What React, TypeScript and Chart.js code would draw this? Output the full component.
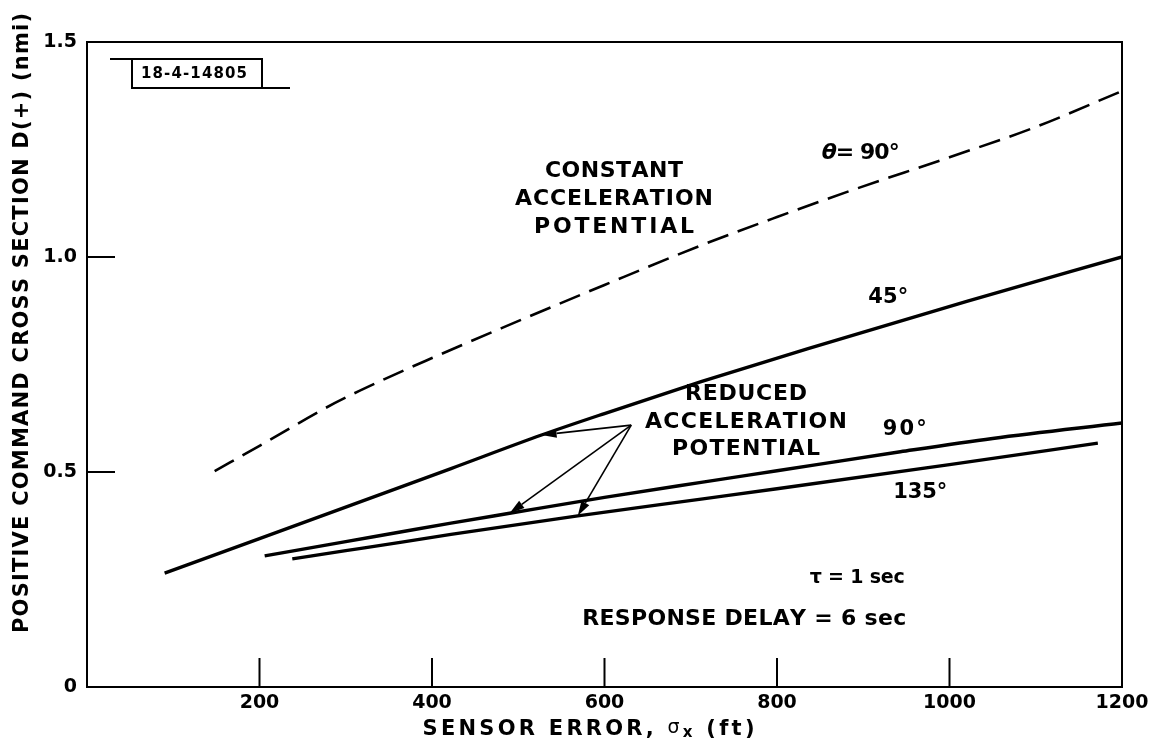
import React, { useEffect, useRef } from 'react';
import { Chart, registerables } from 'chart.js';

Chart.register(...registerables);

// ---- Data ----
const xTickValues = [200, 400, 600, 800, 1000];
const yTickValues = [0.5, 1.0];

// theta = 90 deg, constant acceleration potential (dashed)
const constAcc90X = [148, 200, 287, 345, 400, 480, 600, 712, 800, 885, 1000, 1097, 1200];
const constAcc90Y = [0.502, 0.561, 0.66, 0.716, 0.765, 0.834, 0.935, 1.027, 1.093, 1.154, 1.232, 1.3, 1.386];

// reduced acceleration potential, 45 deg
const reduced45X = [90, 200, 365, 422, 527, 600, 712, 836, 1020, 1200];
const reduced45Y = [0.265, 0.345, 0.466, 0.508, 0.586, 0.636, 0.71, 0.787, 0.897, 1.0];

// reduced acceleration potential, 90 deg
const reduced90X = [206, 300, 365, 422, 490, 600, 712, 800, 943, 1050, 1200];
const reduced90Y = [0.305, 0.338, 0.361, 0.381, 0.404, 0.441, 0.476, 0.503, 0.547, 0.578, 0.614];

// reduced acceleration potential, 135 deg
const reduced135X = [238, 300, 365, 422, 569, 712, 800, 1000, 1172];
const reduced135Y = [0.298, 0.317, 0.337, 0.355, 0.398, 0.437, 0.461, 0.517, 0.567];

// pointer arrows (data coordinates)
const arrowFrom = { x: 631, y: 0.609 };
const arrowTipsX = [527, 490, 569];
const arrowTipsY = [0.586, 0.404, 0.398];

const FONT = '"DejaVu Sans", "Liberation Sans", sans-serif';
const B = (px: number) => `bold ${px}px ${FONT}`;

type Seg = { t: string; font: string; dy?: number };

function drawRich(ctx: CanvasRenderingContext2D, segs: Seg[], cx: number, cy: number, width?: number) {
  const chars: { ch: string; font: string; dy: number; w: number }[] = [];
  for (const s of segs) {
    ctx.font = s.font;
    for (const ch of Array.from(s.t)) {
      chars.push({ ch, font: s.font, dy: s.dy || 0, w: ctx.measureText(ch).width });
    }
  }
  const natural = chars.reduce((a, c) => a + c.w, 0);
  const total = width ?? natural;
  const gap = chars.length > 1 && width ? (width - natural) / (chars.length - 1) : 0;
  let x = cx - total / 2;
  ctx.textBaseline = 'middle';
  ctx.textAlign = 'left';
  for (const c of chars) {
    ctx.font = c.font;
    ctx.fillText(c.ch, x, cy + c.dy);
    x += c.w + gap;
  }
}

// annotation texts placed in data coordinates
const annotations: { segs: Seg[]; x: number; y: number; w?: number }[] = [
  { segs: [{ t: 'CONSTANT', font: B(22) }], x: 611, y: 1.2, w: 138 },
  { segs: [{ t: 'ACCELERATION', font: B(22) }], x: 611, y: 1.135, w: 198 },
  { segs: [{ t: 'POTENTIAL', font: B(22) }], x: 611, y: 1.07, w: 160 },
  { segs: [{ t: 'θ', font: `italic bold 22px ${FONT}` }, { t: '= 90°', font: B(22) }], x: 897, y: 1.242, w: 78 },
  { segs: [{ t: '45°', font: B(21) }], x: 929, y: 0.905, w: 40 },
  { segs: [{ t: 'REDUCED', font: B(22) }], x: 764, y: 0.681, w: 122 },
  { segs: [{ t: 'ACCELERATION', font: B(22) }], x: 764, y: 0.616, w: 202 },
  { segs: [{ t: 'POTENTIAL', font: B(22) }], x: 764, y: 0.553, w: 148 },
  { segs: [{ t: '90°', font: B(21) }], x: 948, y: 0.598, w: 44 },
  { segs: [{ t: '135°', font: B(21) }], x: 966, y: 0.453, w: 54 },
  { segs: [{ t: 'τ = 1 sec', font: B(19) }], x: 893, y: 0.253, w: 95 },
  { segs: [{ t: 'RESPONSE DELAY = 6 sec', font: B(22) }], x: 762, y: 0.158, w: 324 },
];

const decorPlugin = {
  id: 'decor',
  afterDatasetsDraw(chart: any) {
    const { ctx, chartArea, scales } = chart;
    const xs = scales.x;
    const ys = scales.y;
    const { left, right, top, bottom } = chartArea;
    ctx.save();
    ctx.strokeStyle = '#000';
    ctx.fillStyle = '#000';
    ctx.lineCap = 'butt';

    // frame top and right
    ctx.lineWidth = 2;
    ctx.beginPath();
    ctx.moveTo(left, top);
    ctx.lineTo(right, top);
    ctx.lineTo(right, bottom);
    ctx.stroke();

    // inward tick marks
    for (const v of xTickValues) {
      const px = xs.getPixelForValue(v);
      ctx.beginPath();
      ctx.moveTo(px, bottom);
      ctx.lineTo(px, bottom - 29);
      ctx.stroke();
    }
    for (const v of yTickValues) {
      const py = ys.getPixelForValue(v);
      ctx.beginPath();
      ctx.moveTo(left, py);
      ctx.lineTo(left + 28, py);
      ctx.stroke();
    }

    // arrows
    const fx = xs.getPixelForValue(arrowFrom.x);
    const fy = ys.getPixelForValue(arrowFrom.y);
    ctx.lineWidth = 1.6;
    for (let i = 0; i < arrowTipsX.length; i++) {
      const tx = xs.getPixelForValue(arrowTipsX[i]);
      const ty = ys.getPixelForValue(arrowTipsY[i]);
      const ang = Math.atan2(ty - fy, tx - fx);
      const hl = 15;
      const hw = 4.5;
      const bx = tx - hl * Math.cos(ang);
      const by = ty - hl * Math.sin(ang);
      ctx.beginPath();
      ctx.moveTo(fx, fy);
      ctx.lineTo(bx, by);
      ctx.stroke();
      ctx.beginPath();
      ctx.moveTo(tx, ty);
      ctx.lineTo(bx + hw * Math.sin(ang), by - hw * Math.cos(ang));
      ctx.lineTo(bx - hw * Math.sin(ang), by + hw * Math.cos(ang));
      ctx.closePath();
      ctx.fill();
    }

    // id box (top-left)
    ctx.lineWidth = 2;
    const bxl = left + 45;
    const byt = top + 17;
    const bw = 130;
    const bh = 29;
    ctx.strokeRect(bxl, byt, bw, bh);
    ctx.beginPath();
    ctx.moveTo(left + 23, byt);
    ctx.lineTo(bxl, byt);
    ctx.moveTo(bxl, byt + bh);
    ctx.lineTo(left + 203, byt + bh);
    ctx.stroke();
    drawRich(ctx, [{ t: '18-4-14805', font: `bold 15px ${FONT}` }], bxl + 62, byt + bh / 2 + 1, 106);

    // annotations
    for (const a of annotations) {
      drawRich(ctx, a.segs, xs.getPixelForValue(a.x), ys.getPixelForValue(a.y), a.w);
    }

    // axis titles
    drawRich(
      ctx,
      [
        { t: 'SENSOR ERROR, ', font: B(21) },
        { t: 'σ', font: `19px ${FONT}`, dy: -2 },
        { t: 'x', font: B(15), dy: 3 },
        { t: ' (ft)', font: B(21) },
      ],
      (left + right) / 2 - 16,
      730,
      332,
    );
    ctx.save();
    ctx.translate(23, 323);
    ctx.rotate(-Math.PI / 2);
    drawRich(ctx, [{ t: 'POSITIVE COMMAND CROSS SECTION D(+) (nmi)', font: B(21) }], 0, 0, 620);
    ctx.restore();

    ctx.restore();
  },
};

const toPts = (xs: number[], ys: number[]) => xs.map((x, i) => ({ x, y: ys[i] }));

export default function App() {
  const ref = useRef<HTMLCanvasElement | null>(null);
  useEffect(() => {
    if (!ref.current) return;
    const solid = {
      borderColor: '#000',
      borderWidth: 3.4,
      pointRadius: 0,
      fill: false,
      cubicInterpolationMode: 'monotone' as const,
    };
    const chart = new Chart(ref.current, {
      type: 'line',
      data: {
        datasets: [
          {
            label: 'θ = 90° (constant acceleration potential)',
            data: toPts(constAcc90X, constAcc90Y),
            ...solid,
            borderWidth: 2.6,
            borderDash: [22, 10],
          },
          { label: '45°', data: toPts(reduced45X, reduced45Y), ...solid },
          { label: '90°', data: toPts(reduced90X, reduced90Y), ...solid },
          { label: '135°', data: toPts(reduced135X, reduced135Y), ...solid },
        ],
      },
      options: {
        animation: false,
        responsive: true,
        maintainAspectRatio: false,
        layout: { padding: { top: 42, right: 39, left: 0, bottom: 0 } },
        plugins: { legend: { display: false }, tooltip: { enabled: false } },
        scales: {
          x: {
            type: 'linear',
            min: 0,
            max: 1200,
            grid: { display: false, drawTicks: false },
            border: { display: true, color: '#000', width: 2 },
            ticks: {
              stepSize: 200,
              color: '#000',
              font: { family: '"DejaVu Sans", sans-serif', size: 19, weight: 'bold' },
              padding: 5,
              maxRotation: 0,
              callback: (v: any) => (Number(v) === 0 ? '' : String(v)),
            },
            afterFit: (s: any) => {
              s.height = 63;
            },
          },
          y: {
            type: 'linear',
            min: 0,
            max: 1.5,
            grid: { display: false, drawTicks: false },
            border: { display: true, color: '#000', width: 2 },
            ticks: {
              stepSize: 0.5,
              color: '#000',
              font: { family: '"DejaVu Sans", sans-serif', size: 19, weight: 'bold' },
              padding: 10,
              callback: (v: any) => (Number(v) === 0 ? '0' : Number(v).toFixed(1)),
            },
            afterFit: (s: any) => {
              s.width = 87;
            },
          },
        },
      },
      plugins: [decorPlugin],
    });
    return () => chart.destroy();
  }, []);
  return (
    <div style={{ position: 'absolute', left: 0, top: 0, width: 1161, height: 750, background: '#fff' }}>
      <canvas ref={ref} />
    </div>
  );
}
